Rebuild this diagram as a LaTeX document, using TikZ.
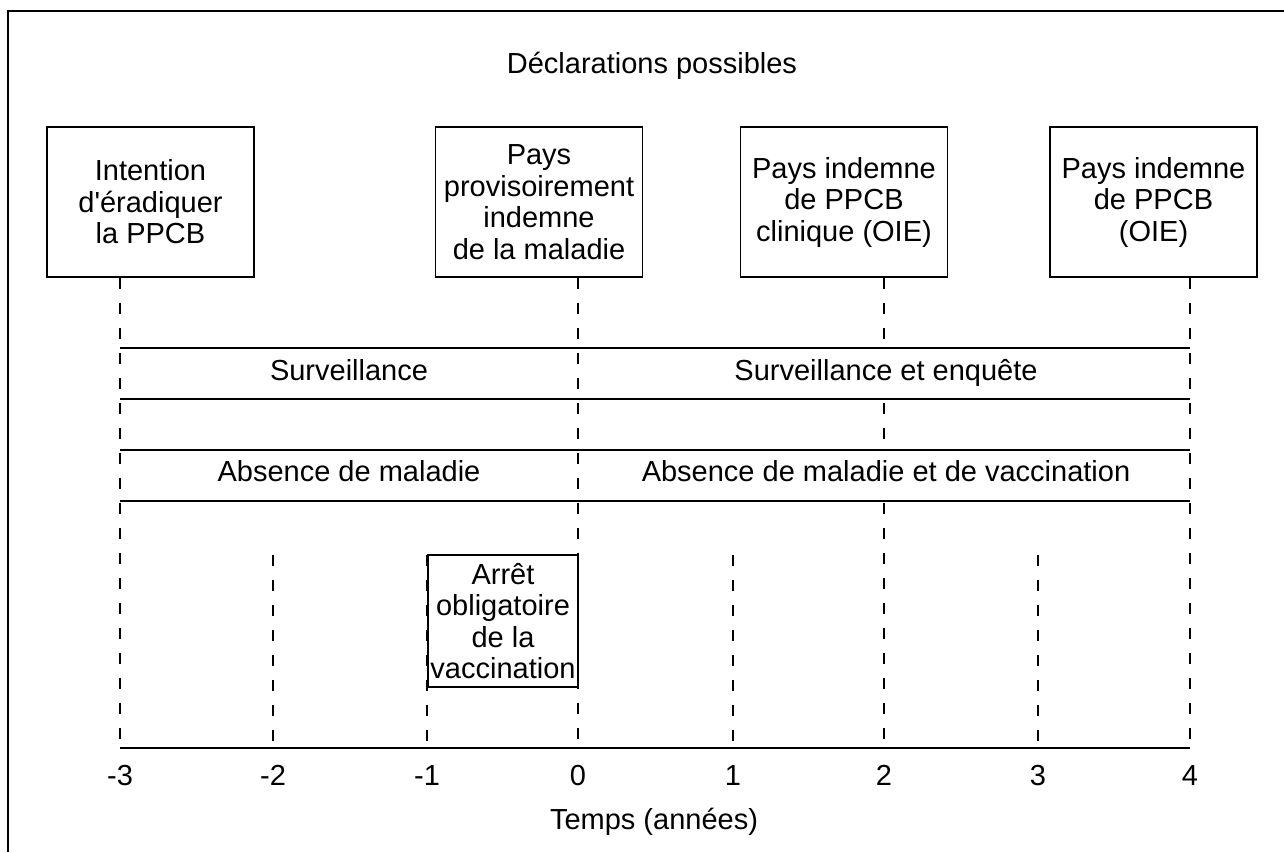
\documentclass[tikz,border=0pt]{standalone}
\usepackage{fontspec}
\newfontfamily\lsans{Liberation Sans}
\begin{document}
\begin{tikzpicture}[x=1pt,y=-1pt,
  txt/.style={font=\lsans\fontsize{29}{31.5}\selectfont, inner sep=0pt},
  bandtxt/.style={txt, fill=white, inner xsep=2pt, inner ysep=0pt,
    text height=30pt, text depth=17.5pt},
  decl/.style={draw, line width=1.4pt, minimum width=207pt, minimum height=150pt,
    align=center, inner sep=0pt, font=\lsans\fontsize{29}{31.5}\selectfont},
  guide/.style={line width=1.4pt, dash pattern=on 11pt off 14pt},
  band/.style={line width=1.6pt}]
\useasboundingbox (0,0) rectangle (1284,852);
% frame (top and left)
\coordinate (fa) at (1284,11);
\coordinate (fb) at (8,11);
\coordinate (fc) at (8,852);
\draw[line width=1.4pt] (fa) -- (fb) -- (fc);
% title
\node[txt, anchor=base] (title) at (652,73) {Déclarations possibles};
% axis tick coordinates
\coordinate (tm3) at (120,748);
\coordinate (tm2) at (273,748);
\coordinate (tm1) at (427,748);
\coordinate (t0)  at (578,748);
\coordinate (t1)  at (733,748);
\coordinate (t2)  at (884,748);
\coordinate (t3)  at (1038,748);
\coordinate (t4)  at (1190,748);
% declaration boxes
\node[decl] (b1) at (150.5,202) {Intention\\d'éradiquer\\la PPCB};
\node[decl] (b2) at (539,202) {Pays\\provisoirement\\indemne\\de la maladie};
\node[decl] (b3) at (844,202) {Pays indemne\\de PPCB\\clinique (OIE)};
\node[decl] (b4) at (1153.5,202) {Pays indemne\\de PPCB\\(OIE)};
% long dashed guides
\draw[guide] (b1.south -| tm3) -- (tm3);
\draw[guide] (b2.south -| t0) -- (t0);
\draw[guide] (b3.south -| t2) -- (t2);
\draw[guide] (b4.south -| t4) -- (t4);
% short dashed guides
\coordinate (sg) at (0,555);
\draw[guide] (sg -| tm2) -- (tm2);
\draw[guide] (sg -| tm1) -- (tm1);
\draw[guide] (sg -| t1) -- (t1);
\draw[guide] (sg -| t3) -- (t3);
% bands
\foreach \yy/\nm in {348/h1,399/h2,450/h3,501/h4}{
  \coordinate (\nm l) at (120,\yy);
  \coordinate (\nm r) at (1190,\yy);
  \draw[band] (\nm l) -- (\nm r);
}
\node[bandtxt, anchor=base] (s1) at (349,380) {Surveillance};
\node[bandtxt, anchor=base] (s2) at (886,380) {Surveillance et enquête};
\node[bandtxt, anchor=base] (a1) at (349,481) {Absence de maladie};
\node[bandtxt, anchor=base] (a2) at (886,481) {Absence de maladie et de vaccination};
% vaccination box
\node[decl, minimum width=150pt, minimum height=132pt] (vac) at (503,621)
  {Arrêt\\obligatoire\\de la\\vaccination};
% axis
\draw[band] (tm3) -- (t4);
\foreach \c/\l in {tm3/-3,tm2/-2,tm1/-1,t0/0,t1/1,t2/2,t3/3,t4/4}{
  \node[txt, anchor=base] (lab\c) at ([yshift=-37pt]\c) {\l};
}
\node[txt, anchor=base] (xlab) at (654,829) {Temps (années)};
\end{tikzpicture}
\end{document}
